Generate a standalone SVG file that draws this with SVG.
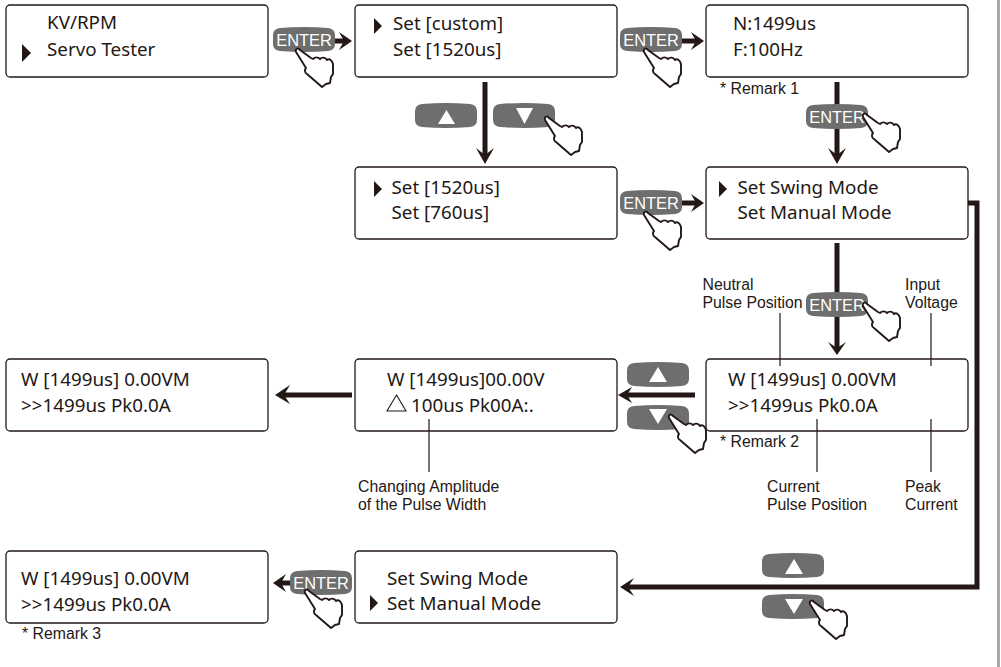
<svg xmlns="http://www.w3.org/2000/svg" width="1001" height="667" viewBox="0 0 1001 667">
<defs>
<style>
.box{fill:#fff;stroke:#231815;stroke-width:1.3}
.lcd{font-family:"Noto Sans","Open Sans",sans-serif;font-size:18.8px;fill:#231815}
.lab{font-family:"Liberation Sans",Arial,sans-serif;font-size:15.8px;fill:#231815}
.ent{font-family:"Liberation Sans",Arial,sans-serif;font-size:16.4px;fill:#fff}
.btn{fill:#6d6e6d}
.line{stroke:#231815;stroke-width:5;fill:none}
.thin{stroke:#231815;stroke-width:1.2;fill:none}
.hand{fill:#fff;stroke:#231815;stroke-width:1.9;stroke-linejoin:round}
.head{fill:#231815}
.w{fill:#fff}
</style>
<path id="hand" class="hand" d="M0 1C-2 -2 -5 0 -4 3L6 19C4 21 5 24 7 25L22 38L26 35L30 34L31 28L33 25L33 15C32 11 29 9 27 11C25 8 22 8 20 10C18 8 15 8 13 10L11 9Z"/>
<path id="b" class="btn" d="M7 1Q31 -1 55 1Q62 2 62 8V17Q62 23 55 24Q31 26 7 24Q0 23 0 17V8Q0 2 7 1Z"/>
<g id="enterbtn"><use href="#b"/><text x="31" y="18.5" text-anchor="middle" class="ent">ENTER</text></g>
</defs>
<rect x="997" y="0" width="3" height="667" fill="#a8a8a8"/>
<g id="connectors">
<path class="line" d="M485 82V158"/><path class="head" d="M476 148L485 155L494 148L485 164Z"/>
<path class="line" d="M837 82V158"/><path class="head" d="M828 148L837 155L846 148L837 164Z"/>
<path class="line" d="M837 243V350"/><path class="head" d="M828 342L837 348L846 342L837 355Z"/>
<path class="line" d="M695 395H625"/><path class="head" d="M618 395L632 387L627 395L632 403Z"/>
<path class="line" d="M352 395H282"/><path class="head" d="M275 395L290 385L284 395L290 404Z"/>
<path class="line" d="M968 203H977V587H628"/><path class="head" d="M620 587L634 578L628 587L634 596Z"/>
<path class="line" d="M334 41H346"/><path class="head" d="M339 32L352 41L339 50L344 41Z"/>
<path class="line" d="M682 41H696"/><path class="head" d="M691 32L704 41L691 50L696 41Z"/>
<path class="line" d="M682 203H696"/><path class="head" d="M691 194L704 203L691 212L696 203Z"/>
<path class="line" d="M293 583H280"/><path class="head" d="M273 583L286 574L281 583L286 592Z"/>
</g>
<g id="n1"><rect x="6" y="5" width="262" height="72" rx="4" class="box"/><text x="47" y="29" class="lcd">KV/RPM</text><text x="47" y="55.500" class="lcd">Servo Tester</text><path class="head" d="M22 44L31 53L22 62Z"/></g>
<g id="n2"><rect x="355" y="5" width="262" height="72" rx="4" class="box"/><text x="393" y="30" class="lcd">Set [custom]</text><text x="393" y="56" class="lcd">Set [1520us]</text><path class="head" d="M374 18L382 26L374 34Z"/></g>
<g id="n3"><rect x="706" y="5" width="262" height="72" rx="4" class="box"/><text x="733" y="30" class="lcd">N:1499us</text><text x="733" y="56" class="lcd">F:100Hz</text></g>
<g id="n4"><rect x="355" y="167" width="262" height="72" rx="4" class="box"/><text x="391.500" y="194" class="lcd">Set [1520us]</text><text x="391.500" y="219" class="lcd">Set [760us]</text><path class="head" d="M374 181L382 189L374 197Z"/></g>
<g id="n5"><rect x="706" y="167" width="262" height="72" rx="4" class="box"/><text x="737.500" y="194" class="lcd">Set Swing Mode</text><text x="737.500" y="219" class="lcd">Set Manual Mode</text><path class="head" d="M719 181L727 189L719 197Z"/></g>
<g id="n6"><rect x="6" y="359" width="262" height="72" rx="4" class="box"/><text x="21" y="386" class="lcd">W [1499us] 0.00VM</text><text x="21" y="412" class="lcd">&gt;&gt;1499us Pk0.0A</text></g>
<g id="n7"><rect x="355" y="359" width="262" height="72" rx="4" class="box"/><text x="387" y="386" class="lcd">W [1499us]00.00V</text><text x="411" y="412" class="lcd">100us Pk00A:.</text><path fill="none" stroke="#231815" stroke-width="1.1" d="M396.500 395L406 411H387Z"/></g>
<g id="n8"><rect x="706" y="359" width="262" height="72" rx="4" class="box"/><text x="728" y="386" class="lcd">W [1499us] 0.00VM</text><text x="728" y="412" class="lcd">&gt;&gt;1499us Pk0.0A</text></g>
<g id="n9"><rect x="6" y="551" width="262" height="72" rx="4" class="box"/><text x="21" y="585" class="lcd">W [1499us] 0.00VM</text><text x="21" y="611" class="lcd">&gt;&gt;1499us Pk0.0A</text></g>
<g id="n10"><rect x="355" y="551" width="262" height="72" rx="4" class="box"/><text x="387" y="585" class="lcd">Set Swing Mode</text><text x="387" y="610" class="lcd">Set Manual Mode</text><path class="head" d="M370 595L378 603L370 611Z"/></g>
<g id="annotations">
<path class="thin" d="M780 313V366M931 313V366M817 419V472M931 419V472M429 419V472"/>
<text x="702.500" y="289.500" class="lab">Neutral</text><text x="702.500" y="307.500" class="lab">Pulse Position</text>
<text x="905" y="289.500" class="lab">Input</text><text x="905" y="307.500" class="lab">Voltage</text>
<text x="767" y="492" class="lab">Current</text><text x="767" y="510" class="lab">Pulse Position</text>
<text x="905" y="492" class="lab">Peak</text><text x="905" y="510" class="lab">Current</text>
<text x="358" y="492" class="lab">Changing Amplitude</text><text x="358" y="510" class="lab">of the Pulse Width</text>
<text x="720" y="94" class="lab">* Remark 1</text><text x="720" y="447" class="lab">* Remark 2</text><text x="22" y="639" class="lab">* Remark 3</text>
</g>
<g id="btn-enter-1"><use href="#enterbtn" x="273" y="27"/><use href="#hand" x="300" y="49"/></g>
<g id="btn-enter-2"><use href="#enterbtn" x="620" y="27"/><use href="#hand" x="648" y="49"/></g>
<g id="btn-enter-3"><use href="#enterbtn" x="806" y="104"/><use href="#hand" x="867" y="114"/></g>
<g id="btn-enter-4"><use href="#enterbtn" x="620" y="190"/><use href="#hand" x="648" y="212"/></g>
<g id="btn-enter-5"><use href="#enterbtn" x="806" y="292"/><use href="#hand" x="867" y="303"/></g>
<g id="btn-enter-6"><use href="#enterbtn" x="290" y="570"/><use href="#hand" x="309" y="590"/></g>
<g id="btn-updown-1"><use href="#b" x="415" y="103"/><path class="w" d="M438 124L446.500 110L455 124Z"/><use href="#b" x="493" y="103"/><path class="w" d="M516 108H533L524.500 124Z"/><use href="#hand" x="549" y="117"/></g>
<g id="btn-updown-2"><use href="#b" x="627" y="362"/><path class="w" d="M649 382L658 367L667 382Z"/><use href="#b" x="627" y="405"/><path class="w" d="M649 409H667L658 424Z"/><use href="#hand" x="673" y="415"/></g>
<g id="btn-updown-3"><use href="#b" x="762" y="553"/><path class="w" d="M785 574L794 559L803 574Z"/><use href="#b" x="762" y="594"/><path class="w" d="M785 599H803L794 614Z"/><use href="#hand" x="814" y="601"/></g>
</svg>
